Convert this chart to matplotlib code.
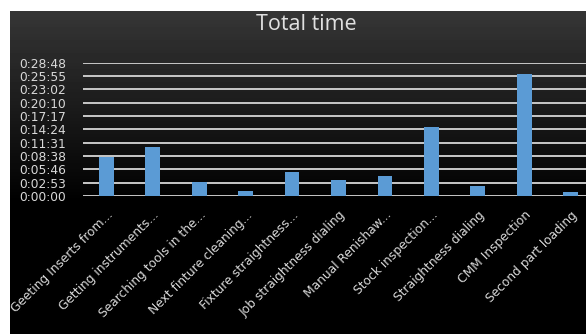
import numpy as np
import matplotlib
matplotlib.use("Agg")
import matplotlib.pyplot as plt
from matplotlib.ticker import FixedLocator, FuncFormatter

plt.rcParams['font.family'] = ['DejaVu Sans']

tasks = ["Geeting Inserts from...", "Getting instruments...", "Searching tools in the...",
         "Next finture cleaning...", "Fixture straightness...", "Job straightness dialing",
         "Manual Renishaw...", "Stock inspection...", "Straightness dialing",
         "CMM Inspection", "Second part loading"]
# total time in seconds
seconds = [509, 639, 185, 69, 315, 207, 259, 898, 130, 1580, 48]
tick_step = 172.8  # 0.002 day, Excel axis step
n_ticks = 11


def hms(v, pos=None):
    s = int(round(v))
    return "%d:%02d:%02d" % (s // 3600, (s % 3600) // 60, s % 60)


fig = plt.figure(figsize=(5.86, 3.34), dpi=100)
fig.patch.set_facecolor("white")

# dark gradient background of the chart area
bg = fig.add_axes([10 / 586, 0, 1, 1 - 11 / 334])
grad = np.concatenate([np.linspace(0.21, 0.0, 60), np.zeros(40)])
bg.imshow(np.tile(grad[:, None], (1, 2)), cmap="gray", vmin=0, vmax=1,
          aspect="auto", extent=[0, 1, 0, 1])
bg.set_axis_off()

ax = fig.add_axes([83 / 586, 1 - 196 / 334, 511 / 586, 133.3 / 334])
ax.set_facecolor("none")
x = np.arange(len(tasks))
ax.bar(x, seconds, width=0.32, color="#5b9bd5", zorder=3)
ax.set_xlim(-0.5, len(tasks) - 0.5)
ax.set_ylim(0, tick_step * (n_ticks - 1))

ax.yaxis.set_major_locator(FixedLocator([tick_step * i for i in range(n_ticks)]))
ax.yaxis.set_major_formatter(FuncFormatter(hms))
ax.grid(axis="y", color="#c8c8c8", linewidth=1.4, zorder=1)
ax.set_axisbelow(True)
for side in ["top", "right", "left", "bottom"]:
    ax.spines[side].set_visible(False)
ax.tick_params(axis="y", length=0, pad=12, labelsize=8.8, labelcolor="#d9d9d9")
ax.tick_params(axis="x", length=0, pad=9, labelsize=8.8, labelcolor="#d9d9d9")
ax.set_xticks(x)
ax.set_xticklabels(tasks, rotation=45, ha="right", rotation_mode="anchor")

fig.text(306 / 586, 1 - 25 / 334, "Total time", ha="center", va="center",
         fontsize=15.5, color="#e0e0e0", family=["Open Sans", "DejaVu Sans"])

fig.savefig("out.png", dpi=100, facecolor=fig.get_facecolor())
